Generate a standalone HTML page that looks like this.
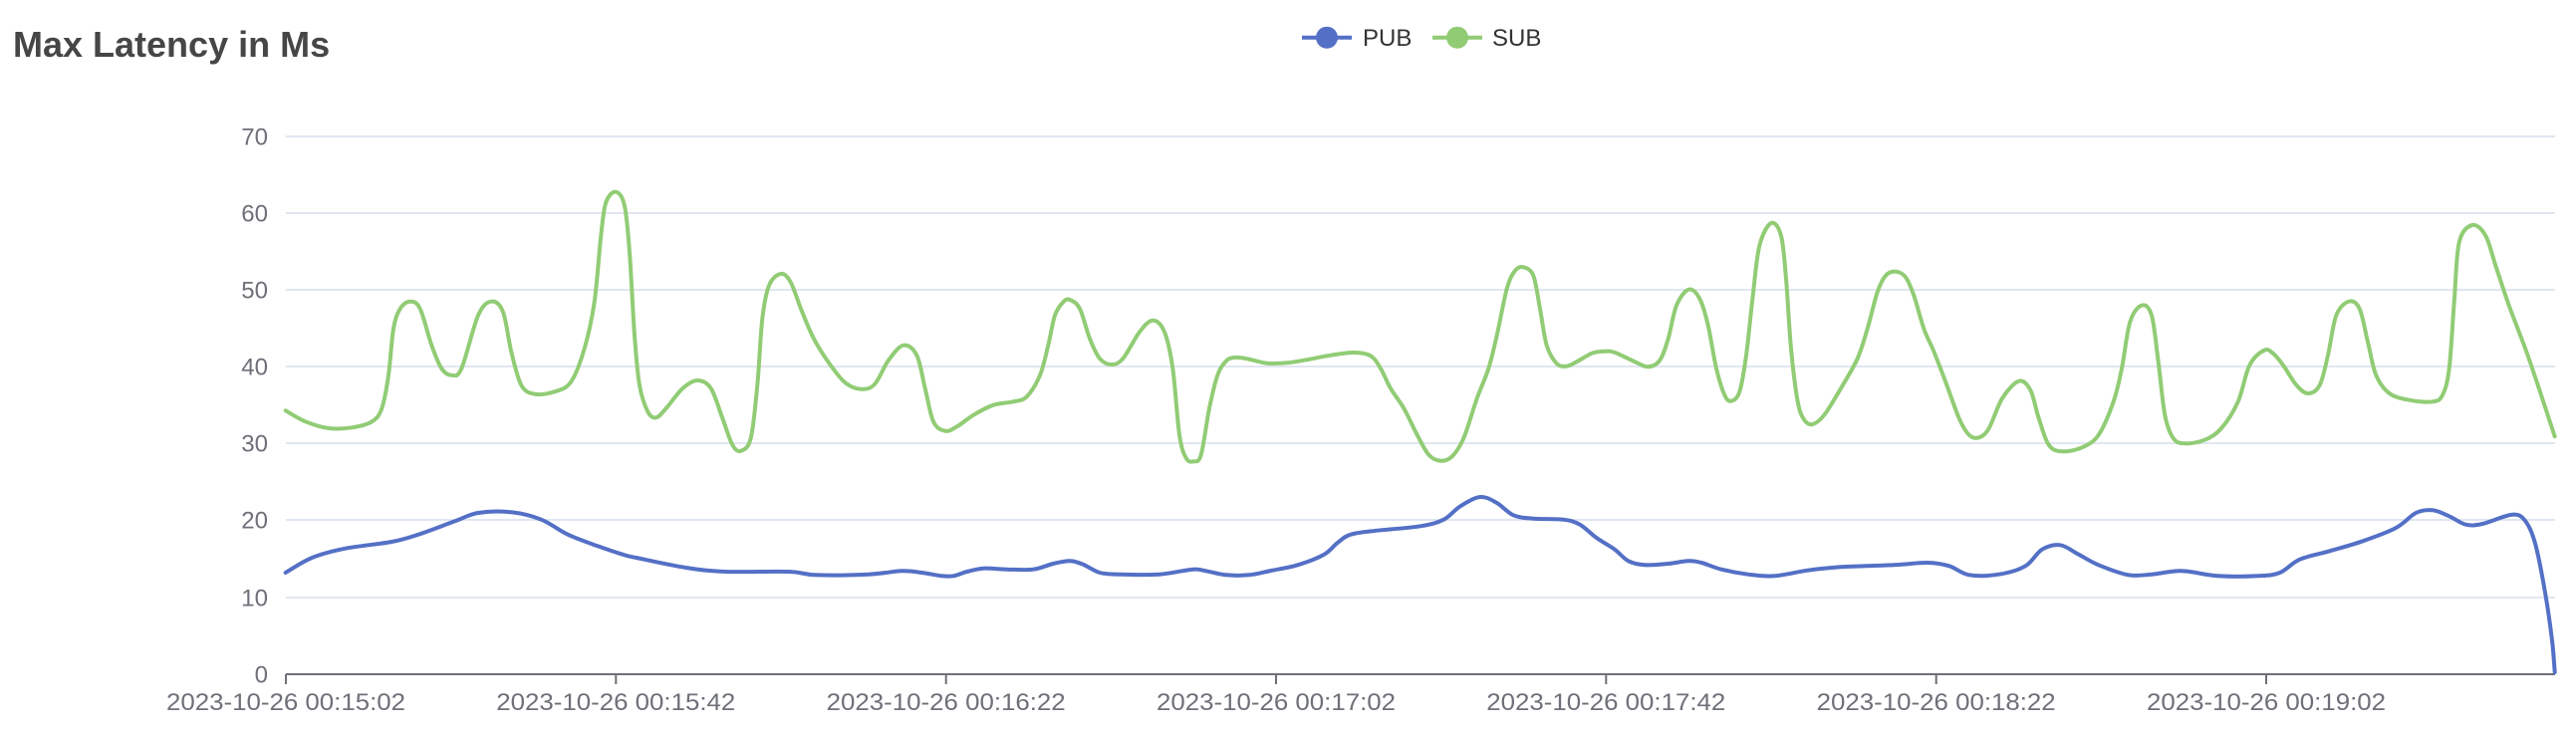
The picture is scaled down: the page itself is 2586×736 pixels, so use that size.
<!DOCTYPE html>
<html>
<head>
<meta charset="utf-8">
<style>
html,body{margin:0;padding:0;background:#fff;}
svg{display:block;}
text{font-family:"Liberation Sans",Arial,sans-serif;}
</style>
</head>
<body>
<svg id="chart" width="2586" height="736" viewBox="0 0 2586 736" xmlns="http://www.w3.org/2000/svg">
<rect width="2586" height="736" fill="#fff"/>
<!-- title -->
<text x="13" y="57" font-size="36" font-weight="bold" fill="#464646">Max Latency in Ms</text>
<!-- legend -->
<line x1="1307" y1="37.7" x2="1357" y2="37.7" stroke="#5470c6" stroke-width="4"/>
<circle cx="1332" cy="37.7" r="11" fill="#5470c6"/>
<text x="1368" y="46" font-size="24" fill="#333">PUB</text>
<line x1="1438" y1="37.7" x2="1488" y2="37.7" stroke="#91cc75" stroke-width="4"/>
<circle cx="1463" cy="37.7" r="11" fill="#91cc75"/>
<text x="1498" y="46" font-size="24" fill="#333">SUB</text>
<!-- grid lines -->
<g stroke="#E0E6F1" stroke-width="2">
<line x1="287" y1="137" x2="2565" y2="137"/>
<line x1="287" y1="214" x2="2565" y2="214"/>
<line x1="287" y1="291" x2="2565" y2="291"/>
<line x1="287" y1="368" x2="2565" y2="368"/>
<line x1="287" y1="445" x2="2565" y2="445"/>
<line x1="287" y1="522" x2="2565" y2="522"/>
<line x1="287" y1="600" x2="2565" y2="600"/>
</g>
<!-- y labels -->
<g font-size="24" fill="#6E7079" text-anchor="end">
<text x="269" y="145.5">70</text>
<text x="269" y="222.5">60</text>
<text x="269" y="299.5">50</text>
<text x="269" y="376.5">40</text>
<text x="269" y="453.5">30</text>
<text x="269" y="530.5">20</text>
<text x="269" y="608.5">10</text>
<text x="269" y="685.5">0</text>
</g>
<!-- x axis -->
<line x1="287" y1="677" x2="2565" y2="677" stroke="#6E7079" stroke-width="2"/>
<g stroke="#6E7079" stroke-width="2">
<line x1="287" y1="677" x2="287" y2="687"/>
<line x1="618.3" y1="677" x2="618.3" y2="687"/>
<line x1="949.7" y1="677" x2="949.7" y2="687"/>
<line x1="1281" y1="677" x2="1281" y2="687"/>
<line x1="1612.3" y1="677" x2="1612.3" y2="687"/>
<line x1="1943.7" y1="677" x2="1943.7" y2="687"/>
<line x1="2275" y1="677" x2="2275" y2="687"/>
</g>
<g font-size="24.5" fill="#6E7079" text-anchor="middle">
<text x="287" y="713" textLength="240" lengthAdjust="spacingAndGlyphs">2023-10-26 00:15:02</text>
<text x="618.3" y="713" textLength="240" lengthAdjust="spacingAndGlyphs">2023-10-26 00:15:42</text>
<text x="949.7" y="713" textLength="240" lengthAdjust="spacingAndGlyphs">2023-10-26 00:16:22</text>
<text x="1281" y="713" textLength="240" lengthAdjust="spacingAndGlyphs">2023-10-26 00:17:02</text>
<text x="1612.3" y="713" textLength="240" lengthAdjust="spacingAndGlyphs">2023-10-26 00:17:42</text>
<text x="1943.7" y="713" textLength="240" lengthAdjust="spacingAndGlyphs">2023-10-26 00:18:22</text>
<text x="2275" y="713" textLength="240" lengthAdjust="spacingAndGlyphs">2023-10-26 00:19:02</text>
</g>
<!-- series -->
<polyline id="pub" fill="none" stroke="#5470c6" stroke-width="4" stroke-linejoin="round" stroke-linecap="round" points="286.7,575 313.3,560 346.7,550.7 393.3,544 420,536.7 456.7,523.3 480,515 513.3,514.3 543.3,521.7 570,536.7 600,548.3 625,556.7 638.7,560 688.7,570 728.7,574 792,574 818.7,577.3 872,576.7 905.3,573.3 925.3,575 945.3,578.3 957.3,578.3 970.7,574 987.3,570.7 1010.7,571.7 1037.3,571.7 1057.3,566 1074,563.3 1087.3,566.7 1104,575 1124,576.7 1164,576.7 1197.3,571.7 1210.7,573.3 1230.7,577.3 1254,577.3 1276,573 1302.7,567.3 1329.3,556.7 1342.7,545 1356,536.7 1382.7,532.7 1426,528.3 1449.3,521.7 1466,508.3 1486,499 1502.7,505 1519.3,517.3 1539.3,520.7 1569.3,521.7 1586,526.7 1602.7,540 1621,551.7 1634.7,563.3 1651.3,567.3 1674.7,566 1694.7,563.3 1708,565 1728,571.7 1754.7,576.7 1781.3,578.3 1814.7,572.7 1848,569.3 1901.3,567.3 1934.7,565 1956.7,568.3 1976.7,577.3 2006.7,576.7 2033.3,568.3 2050,551.7 2068.3,547.3 2086.7,556.7 2106.7,567.3 2136.7,577.3 2160,576.7 2190,573.3 2226.7,578.3 2266.7,578.3 2288.7,575 2308.7,561.7 2338.7,553.3 2372,543.3 2405.3,530 2425.3,515 2442,512.3 2458.7,518.3 2475.3,526.7 2492,526 2522,516.7 2535.3,523.3 2545.3,546.7 2555.3,596.7 2562,643.3 2564.7,675"/>
<polyline id="sub" fill="none" stroke="#91cc75" stroke-width="4" stroke-linejoin="round" stroke-linecap="round" points="286.7,412.3 306.7,423.3 330,430 353.3,429.3 373.3,423.3 383.3,410 390,376.7 395,330 401.7,310 411.7,302.7 421.7,310 433.3,346.7 443.3,370 453.3,376.7 463.3,370 480,316.7 493.3,302.7 505,313.3 513.3,353.3 523.3,386.7 536.7,395.7 556.7,393.3 573.3,383.3 586.7,350 596.7,303.3 603.3,236.7 608.3,203.3 618.3,192.7 627,206.7 632,253.3 637,336.7 642,386.7 650.3,413.3 658.7,419.3 668.7,410 685.3,390 700.3,382 713.7,390 725.3,420 735.3,446.7 743.7,452.7 753.7,440 760.3,386.7 765.3,320 772,286.7 783.7,275 793.7,283.3 805.3,313.3 818.7,343.3 838.7,373.3 852,386.7 867,390.7 878.7,385 892,361.7 907,346.7 920.3,356.7 928.7,390 937,423.3 948.7,432.7 960.7,428.3 977.3,416.7 997.3,406.7 1017.3,403.3 1030.7,398.3 1044,376.7 1052.3,346.7 1059,316.7 1067.3,303.3 1074,301 1084,310 1094,340 1104,360 1115.7,366 1127.3,360 1144,333.3 1157.3,321.7 1169,333.3 1177.3,370 1184,436.7 1190.7,460 1198,463.3 1205.7,456.7 1214,410 1222.3,376.7 1230.7,362.7 1239,359 1250.7,360 1267.3,364 1276,365 1292.7,364.3 1309.3,361.7 1336,356.7 1359.3,354 1376,357.3 1386,370 1396,390 1409.3,410 1422.7,436.7 1434.3,456.7 1446,462.7 1457.7,458.3 1469.3,440 1482.7,400 1494.3,370 1502.7,336.7 1512.7,290 1521,271.7 1529.3,268.3 1539.3,276.7 1546,310 1552.7,346.7 1562.7,365 1572.7,367.7 1582.7,363.3 1599.3,354.3 1612.7,352.7 1621.3,354 1641.3,363.3 1654.7,368.3 1666.3,361.7 1674.7,340 1683,306.7 1695.3,290.7 1706.3,300 1714.7,326.7 1723,370 1731.3,396.7 1738,402.7 1746.3,393.3 1753,356.7 1759.7,296.7 1766.3,246.7 1778,224 1788,236.7 1793,280 1798,350 1804.7,403.3 1811.3,421.7 1819.7,426 1831.3,416.7 1848,390 1864.7,360 1874.7,330 1884.7,293.3 1893,276.7 1903,272.7 1913,278.3 1921.3,296.7 1931.3,330 1941,352 1953,383 1966.7,420 1976.7,436.7 1986.7,439.3 1996.7,430 2010,400 2026.7,382.7 2038.3,391.7 2046.7,420 2056.7,446.7 2070,453.3 2090,449.3 2106.7,436.7 2121.7,403.3 2130,370 2138.3,323.3 2150,306.7 2160,316.7 2166.7,363.3 2173.3,416.7 2181.7,440 2193.3,445.3 2213.3,441.7 2230,430 2246.7,403.3 2258.3,366.7 2273,351.7 2282,355 2292,366.7 2305.3,386.7 2317,395 2328.7,386.7 2337,356.7 2345.3,316.7 2358,302.7 2368.7,310 2377,343.3 2385.3,376.7 2398.7,395 2418.7,401.7 2442,403.3 2452,396.7 2458.7,370 2463.7,303.3 2468.7,243.3 2482,226 2495.3,236.7 2505.3,266.7 2518.7,306.7 2538.7,360 2564.7,438.3"/>
</svg>
<script>
(function(){
  var NS="http://www.w3.org/2000/svg";
  ["pub","sub"].forEach(function(id){
    var pl=document.getElementById(id);
    if(!pl) return;
    var raw=pl.getAttribute("points").trim().split(/\s+/).map(function(s){var a=s.split(",");return [parseFloat(a[0]),parseFloat(a[1])];});
    if(raw.length<3) return;
    var d="M"+raw[0][0]+","+raw[0][1];
    for(var i=0;i<raw.length-1;i++){
      var p0=raw[i-1]||raw[i], p1=raw[i], p2=raw[i+1], p3=raw[i+2]||raw[i+1];
      var c1x=p1[0]+(p2[0]-p0[0])/6, c1y=p1[1]+(p2[1]-p0[1])/6;
      var c2x=p2[0]-(p3[0]-p1[0])/6, c2y=p2[1]-(p3[1]-p1[1])/6;
      d+=" C"+c1x.toFixed(2)+","+c1y.toFixed(2)+" "+c2x.toFixed(2)+","+c2y.toFixed(2)+" "+p2[0]+","+p2[1];
    }
    var path=document.createElementNS(NS,"path");
    path.setAttribute("d",d);
    ["fill","stroke","stroke-width","stroke-linejoin","stroke-linecap"].forEach(function(a){path.setAttribute(a,pl.getAttribute(a));});
    pl.parentNode.replaceChild(path,pl);
  });
})();
</script>
</body>
</html>
